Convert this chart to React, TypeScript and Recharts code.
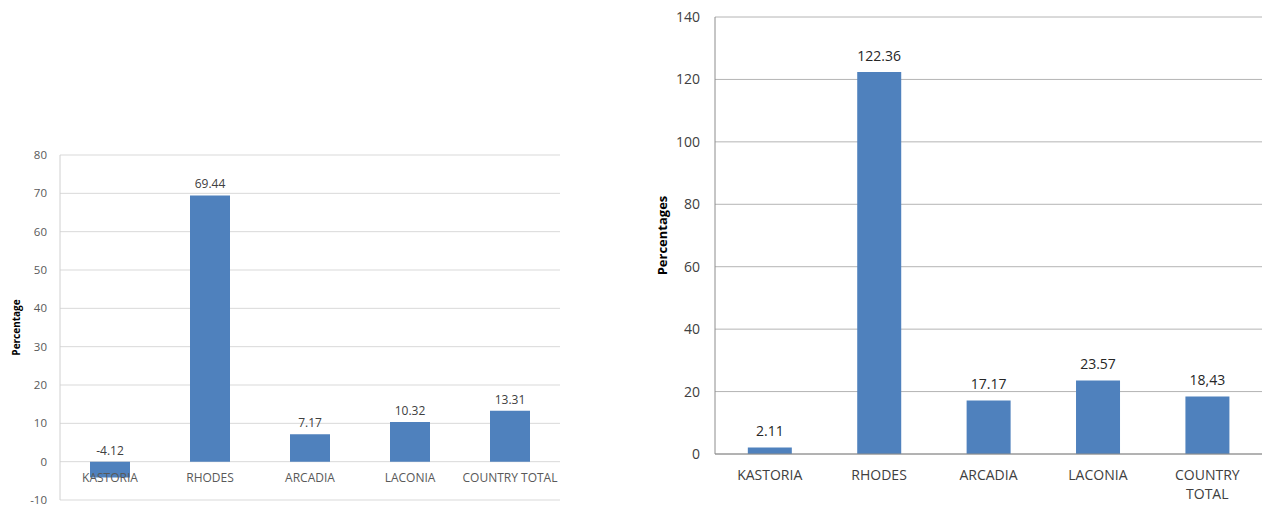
import React from 'react';
import { BarChart, Bar, XAxis, YAxis, CartesianGrid, LabelList } from 'recharts';

// Categories shared by both panels
const regions = ['KASTORIA', 'RHODES', 'ARCADIA', 'LACONIA', 'COUNTRY TOTAL'];

// Left panel: percentage change per region
const leftValues = [-4.12, 69.44, 7.17, 10.32, 13.31];
const leftTicks = [-10, 0, 10, 20, 30, 40, 50, 60, 70, 80];

// Right panel: percentages per region
const rightValues = [2.11, 122.36, 17.17, 23.57, 18.43];
const rightLabels = ['2.11', '122.36', '17.17', '23.57', '18,43'];
const rightTicks = [0, 20, 40, 60, 80, 100, 120, 140];

const leftData = regions.map((name, i) => ({ name, value: leftValues[i] }));
const rightData = regions.map((name, i) => ({ name, value: rightValues[i], label: rightLabels[i] }));

const FONT = '"Open Sans", "Noto Sans", sans-serif';
const BAR = '#4f81bd';

// Rotated axis title centred on the plot height
const AxisTitle = (props: any) => {
  const { viewBox, text, dx, size, color } = props;
  const cx = viewBox.x + dx;
  const cy = viewBox.y + viewBox.height / 2;
  return (
    <text
      x={cx}
      y={cy}
      transform={`rotate(-90, ${cx}, ${cy})`}
      textAnchor="middle"
      dominantBaseline="central"
      fontFamily={FONT}
      fontWeight="bold"
      fontSize={size}
      fill={color}
    >
      {text}
    </text>
  );
};

// Value label drawn above the upper edge of each bar (or of the zero line for negatives)
const makeValueLabel = (gap: number, size: number, color: string, texts?: string[]) => (props: any) => {
  const { x, y, width, height, value, index } = props;
  const top = Math.min(y, y + height);
  const txt = texts ? texts[index] : String(value);
  return (
    <text x={x + width / 2} y={top - gap} textAnchor="middle" fontFamily={FONT} fontSize={size} fill={color}>
      {txt}
    </text>
  );
};

// Category labels of the left panel sit just under the zero line
const LeftTick = (props: any) => {
  const { x, y, payload } = props;
  return (
    <text x={x} y={y - 18} textAnchor="middle" fontFamily={FONT} fontSize={12} fill="#595959">
      {payload.value}
    </text>
  );
};

// Category labels of the right panel, wrapped onto two lines when long
const RightTick = (props: any) => {
  const { x, y, payload } = props;
  const words = String(payload.value).split(' ');
  const lines = words.length > 1 ? words : [payload.value];
  return (
    <text x={x} y={y + 26} textAnchor="middle" fontFamily={FONT} fontSize={14} fill="#404040">
      {lines.map((l: string, i: number) => (
        <tspan key={i} x={x} dy={i === 0 ? 0 : 19}>
          {l}
        </tspan>
      ))}
    </text>
  );
};

export default function App() {
  return (
    <div style={{ position: 'absolute', left: 0, top: 0, width: 1263, height: 506, background: '#fff' }}>
      <div style={{ position: 'absolute', left: 0, top: 0 }}>
        <BarChart
          width={580}
          height={506}
          data={leftData}
          margin={{ top: 155, right: 20, bottom: 1, left: 0 }}
          barCategoryGap="30%"
        >
          <CartesianGrid vertical={false} stroke="#d9d9d9" />
          <XAxis
            dataKey="name"
            height={5}
            axisLine={false}
            tickLine={false}
            tickSize={0}
            tickMargin={0}
            interval={0}
            tick={<LeftTick />}
          />
          <YAxis
            width={60}
            domain={[-10, 80]}
            ticks={leftTicks}
            interval={0}
            axisLine={{ stroke: '#d0d0d0' }}
            tickLine={false}
            tickSize={0}
            tickMargin={13}
            tick={{ fontFamily: FONT, fontSize: 11.5, fill: '#595959' }}
            label={<AxisTitle text="Percentage" dx={16} size={10} color="#000" />}
          />
          <Bar dataKey="value" fill={BAR} isAnimationActive={false}>
            <LabelList dataKey="value" content={makeValueLabel(7, 12, '#404040')} />
          </Bar>
        </BarChart>
      </div>
      <div style={{ position: 'absolute', left: 640, top: 0 }}>
        <BarChart
          width={623}
          height={506}
          data={rightData}
          margin={{ top: 17, right: 1, bottom: 0, left: 0 }}
          barCategoryGap="30%"
        >
          <CartesianGrid vertical={false} stroke="#b4b4b4" />
          <XAxis
            dataKey="name"
            height={52}
            axisLine={{ stroke: '#8c8c8c' }}
            tickLine={false}
            tickSize={0}
            tickMargin={0}
            interval={0}
            tick={<RightTick />}
          />
          <YAxis
            width={75}
            domain={[0, 140]}
            ticks={rightTicks}
            interval={0}
            axisLine={{ stroke: '#8c8c8c' }}
            tickLine={false}
            tickSize={0}
            tickMargin={15}
            tick={{ fontFamily: FONT, fontSize: 14, fill: '#404040' }}
            label={<AxisTitle text="Percentages" dx={22} size={13} color="#000" />}
          />
          <Bar dataKey="value" fill={BAR} isAnimationActive={false}>
            <LabelList dataKey="value" content={makeValueLabel(11, 14, '#262626', rightLabels)} />
          </Bar>
        </BarChart>
      </div>
    </div>
  );
}
